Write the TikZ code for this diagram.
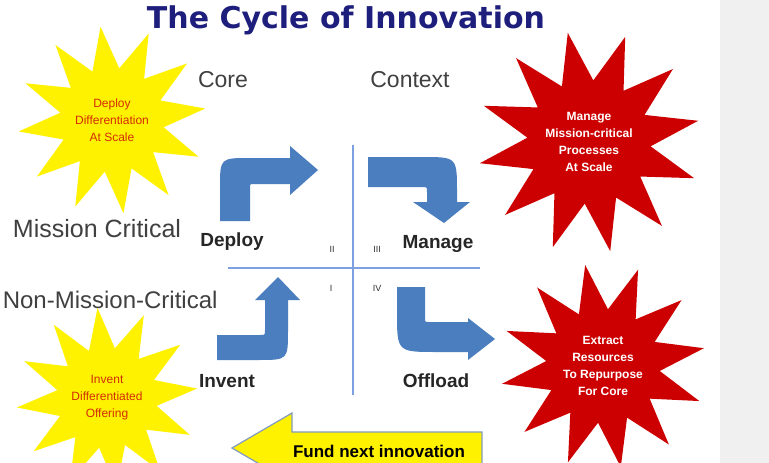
\documentclass[tikz,border=0pt]{standalone}
\usepackage{fontspec}
\setmainfont{Liberation Sans}
\newfontfamily\titlefont{DejaVu Sans}
\usetikzlibrary{shapes.geometric}
\definecolor{navy}{RGB}{30,30,125}
\definecolor{flowblue}{RGB}{74,126,190}
\definecolor{axisblue}{RGB}{125,160,225}
\definecolor{starred}{RGB}{204,0,0}
\definecolor{startext}{RGB}{210,45,0}
\definecolor{panel}{RGB}{240,240,240}
\definecolor{rimblue}{RGB}{130,155,190}

\begin{document}
\begin{tikzpicture}[x=1pt, y=-1pt,
  axislabel/.style={font=\fontsize{23}{26}\selectfont, text=black!75, anchor=base},
  stage/.style={font=\bfseries\fontsize{19}{21}\selectfont, text=black!85, anchor=base},
  numeral/.style={font=\fontsize{9}{10}\selectfont, text=black!80},
  burst/.style={star, star points=12, star point ratio=1.8, align=center, inner sep=0pt},
  yburst/.style={burst, fill=yellow, text=startext, font=\fontsize{12}{17}\selectfont},
  rburst/.style={burst, fill=starred, text=white, font=\bfseries\fontsize{12}{17}\selectfont},
  flow/.style={fill=flowblue}]

  \useasboundingbox (0,0) rectangle (769,463);
  \fill[white] (0,0) rectangle (720,463);
  \fill[panel] (720,0) rectangle (769,463);

  % title and axes labels
  \node[font=\titlefont\bfseries\fontsize{30}{34}\selectfont, text=navy, anchor=base] at (346,28) (title) {The Cycle of Innovation};
  \node[axislabel] at (223,87) (core) {Core};
  \node[axislabel] at (410,87) (context) {Context};
  \node[axislabel, font=\fontsize{25}{28}\selectfont] at (97,237) (mc) {Mission Critical};
  \node[axislabel, font=\fontsize{24}{27}\selectfont, anchor=base east] at (221,308) (nmc) {Non-Mission-Critical};

  % bursts
  \node[yburst, minimum size=180pt, shape border rotate=7] at (112,120) (sdeploy) {Deploy\\Differentiation\\At Scale};
  \node[rburst, minimum size=212pt, shape border rotate=11] at (589,142) (smanage) {Manage\\Mission-critical\\Processes\\At Scale};
  \node[yburst, minimum size=180pt, shape border rotate=6] at (107,398) (sinvent) {Invent\\Differentiated\\Offering};
  \node[rburst, minimum size=205pt, shape border rotate=10] at (603,366) (sextract) {Extract\\Resources\\To Repurpose\\For Core};

  % quadrants
  \draw[axisblue, line width=2] (353,145) -- (353,395);
  \draw[axisblue, line width=2] (228,268) -- (480,268);
  \node[numeral] at (332,249) (qtwo) {II};
  \node[numeral] at (377,249) (qthree) {III};
  \node[numeral] at (331,288) (qone) {I};
  \node[numeral] at (377,288) (qfour) {IV};

  % cycle arrows
  \fill[flow] (220,221) -- (220,188) .. controls (220,158) .. (250,158) -- (290,158) -- (290,146) -- (318,170) -- (290,195) -- (290,184) -- (254,184) .. controls (250,184) .. (250,188) -- (250,221) -- cycle;
  \fill[flow] (368,157) -- (422,157) .. controls (457,157) .. (457,192) -- (457,202) -- (470,202) -- (444,223) -- (413,202) -- (427,202) -- (427,192) .. controls (427,187) .. (422,187) -- (368,187) -- cycle;
  \fill[flow] (217,335) -- (217,360) -- (258,360) .. controls (288,360) .. (288,330) -- (288,300) -- (300,300) -- (278,277) -- (255,300) -- (265,300) -- (265,330) .. controls (265,335) .. (260,335) -- cycle;
  \fill[flow] (397,287) -- (425,287) -- (425,318) .. controls (425,322) .. (429,322) -- (468,322) -- (468,318) -- (495,339) -- (468,360) -- (468,352) -- (437,352) .. controls (397,352) .. (397,312) -- cycle;

  \node[stage] at (232,246) (deploy) {Deploy};
  \node[stage] at (438,248) (manage) {Manage};
  \node[stage] at (227,387) (invent) {Invent};
  \node[stage] at (436,387) (offload) {Offload};

  % funding arrow
  \draw[fill=yellow, draw=rimblue, line width=1.2] (232,448) -- (292,413) -- (292,432) -- (482,432) -- (482,466) -- (292,466) -- (292,483) -- cycle;
  \node[font=\bfseries\fontsize{17}{19}\selectfont, anchor=base] at (379,457) (fund) {Fund next innovation};
\end{tikzpicture}
\end{document}
